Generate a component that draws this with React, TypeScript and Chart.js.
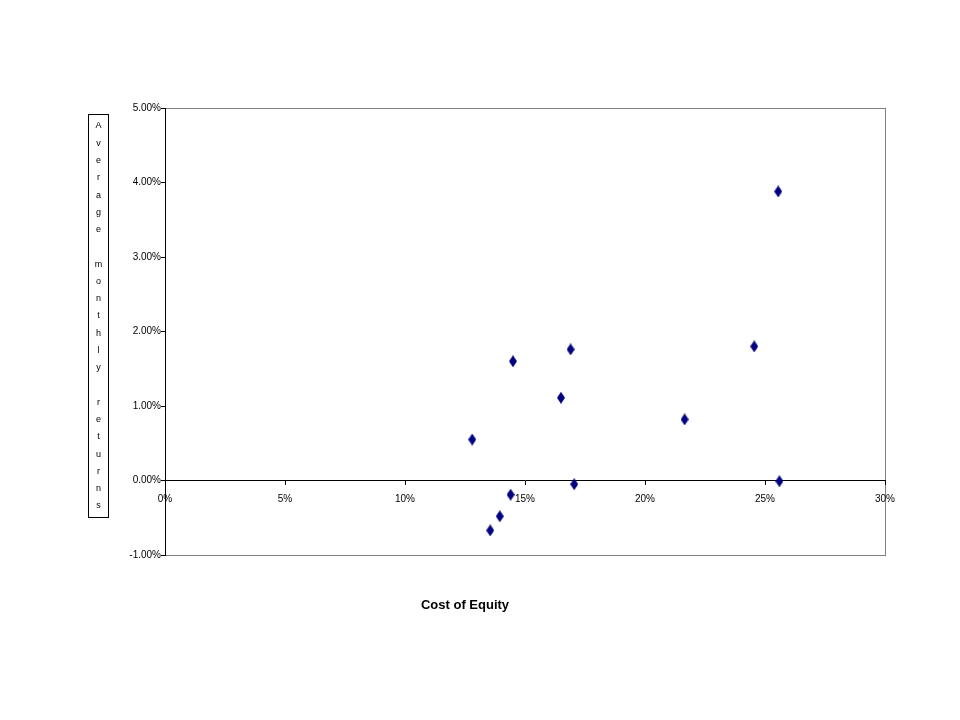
import React, { useEffect, useRef } from 'react';
import { Chart, registerables } from 'chart.js';

Chart.register(...registerables);

// Data (percent units)
const costOfEquity = [12.8, 13.55, 13.95, 14.4, 14.5, 16.5, 16.9, 17.05, 21.65, 24.55, 25.55, 25.6];
const avgMonthlyReturns = [0.55, -0.67, -0.48, -0.19, 1.6, 1.11, 1.76, -0.05, 0.82, 1.8, 3.88, -0.01];
const xTickValues = [0, 5, 10, 15, 20, 25, 30];
const yTickValues = [-1, 0, 1, 2, 3, 4, 5];
const xTitle = 'Cost of Equity';
const yTitle = 'Average monthly returns';

function makeDiamond(): HTMLCanvasElement {
  const c = document.createElement('canvas');
  c.width = 8;
  c.height = 12;
  const g = c.getContext('2d')!;
  g.fillStyle = '#000080';
  g.beginPath();
  g.moveTo(4, 0);
  g.lineTo(8, 6);
  g.lineTo(4, 12);
  g.lineTo(0, 6);
  g.closePath();
  g.fill();
  return c;
}

const framePlugin = {
  id: 'frame',
  beforeDraw(chart: any) {
    const { ctx, chartArea } = chart;
    ctx.save();
    ctx.strokeStyle = '#808080';
    ctx.lineWidth = 1;
    ctx.strokeRect(
      Math.round(chartArea.left) + 0.5,
      Math.round(chartArea.top) + 0.5,
      Math.round(chartArea.right - chartArea.left),
      Math.round(chartArea.bottom - chartArea.top)
    );
    ctx.restore();
  },
  afterDraw(chart: any) {
    const { ctx, chartArea } = chart;
    ctx.save();
    // vertical boxed y title
    const boxLeft = 88.5;
    const boxTop = 114.5;
    const boxW = 20;
    const boxH = 403;
    ctx.fillStyle = '#ffffff';
    ctx.fillRect(boxLeft, boxTop, boxW, boxH);
    ctx.strokeStyle = '#000000';
    ctx.lineWidth = 1;
    ctx.strokeRect(boxLeft, boxTop, boxW, boxH);
    ctx.fillStyle = '#000000';
    ctx.font = '9px "Liberation Sans", Arial, sans-serif';
    ctx.textAlign = 'center';
    ctx.textBaseline = 'middle';
    const chars = yTitle.split('');
    const step = (506 - 126) / (chars.length - 1);
    chars.forEach((ch, i) => {
      ctx.fillText(ch, boxLeft + boxW / 2, 126 + i * step);
    });
    // x title
    ctx.font = 'bold 13px "Liberation Sans", Arial, sans-serif';
    ctx.textAlign = 'center';
    ctx.textBaseline = 'middle';
    const cx = chartArea.left + (chartArea.right - chartArea.left) * 0.4167;
    ctx.fillText(xTitle, cx, 605);
    ctx.restore();
  },
};

export default function App() {
  const ref = useRef<HTMLCanvasElement>(null);

  useEffect(() => {
    if (!ref.current) return;
    const diamond = makeDiamond();
    const chart = new Chart(ref.current, {
      type: 'scatter',
      data: {
        datasets: [
          {
            label: 'Returns',
            data: costOfEquity.map((x, i) => ({ x, y: avgMonthlyReturns[i] })),
            pointStyle: diamond as any,
            pointRadius: 5,
            backgroundColor: '#000080',
            borderColor: '#000080',
          },
        ],
      },
      options: {
        animation: false,
        responsive: false,
        devicePixelRatio: 1,
        layout: { padding: { left: 100, right: 75, top: 108, bottom: 165 } },
        plugins: {
          legend: { display: false },
          tooltip: { enabled: false },
        },
        scales: {
          x: {
            type: 'linear',
            position: { y: 0 } as any,
            min: 0,
            max: 30,
            afterBuildTicks: (scale: any) => {
              scale.ticks = xTickValues.map((v) => ({ value: v }));
            },
            afterFit: (scale: any) => {
              scale.height = 0;
              scale.paddingLeft = 0;
              scale.paddingRight = 0;
            },
            grid: {
              drawOnChartArea: false,
              drawTicks: true,
              tickLength: 4,
              tickColor: '#000000',
            },
            border: { display: true, color: '#000000', width: 1 },
            ticks: {
              color: '#000000',
              padding: 9,
              maxRotation: 0,
              font: { family: '"Liberation Sans", Arial, sans-serif', size: 10 },
              callback: (v: any) => `${v}%`,
            },
          },
          y: {
            type: 'linear',
            position: 'left',
            min: -1,
            max: 5,
            afterBuildTicks: (scale: any) => {
              scale.ticks = yTickValues.map((v) => ({ value: v }));
            },
            afterFit: (scale: any) => {
              scale.width = 65;
              scale.paddingTop = 0;
              scale.paddingBottom = 0;
            },
            grid: {
              drawOnChartArea: false,
              drawTicks: true,
              tickLength: 4,
              tickColor: '#000000',
            },
            border: { display: true, color: '#000000', width: 1 },
            ticks: {
              color: '#000000',
              padding: 0,
              font: { family: '"Liberation Sans", Arial, sans-serif', size: 10 },
              callback: (v: any) => `${Number(v).toFixed(2)}%`,
            },
          },
        },
      },
      plugins: [framePlugin],
    });
    return () => chart.destroy();
  }, []);

  return (
    <div style={{ position: 'absolute', left: 0, top: 0, width: 960, height: 720, background: '#fff' }}>
      <canvas ref={ref} width={960} height={720} style={{ width: 960, height: 720, display: 'block' }} />
    </div>
  );
}
